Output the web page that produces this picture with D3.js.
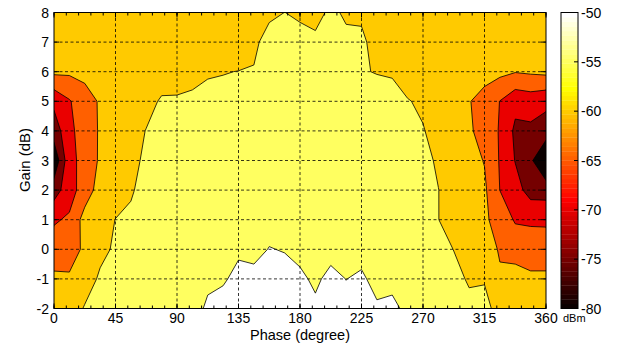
<!DOCTYPE html>
<html>
<head>
<meta charset="utf-8">
<script src="https://cdn.jsdelivr.net/npm/d3@7"></script>
<style>
  body { margin: 0; background: #fff; }
  text { font-family: "Liberation Sans", Arial, sans-serif; fill: #000; }
</style>
</head>
<body>
<svg id="chart" width="618" height="345"></svg>
<script>
// measurement grid: phase (deg) x gain (dB), power in dBm
const phaseDeg = [0, 11.25, 22.5, 33.75, 45, 56.25, 67.5, 78.75, 90, 101.25, 112.5,
  123.75, 135, 146.25, 157.5, 168.75, 180, 191.25, 202.5, 213.75, 225, 236.25,
  247.5, 258.75, 270, 281.25, 292.5, 303.75, 315, 326.25, 337.5, 348.75, 360];
const gainDb = [-2, -1, 0, 1, 2, 3, 4, 5, 6, 7, 8];

// one array per phase, values for gain -2 .. 8
const powerByPhase = [
  [-58.5, -59.1, -62.5, -65.6, -72.3, -79.0, -72.5, -68.9, -59.0, -58.2, -57.8],
  [-58.5, -59.4, -62.0, -64.3, -67.1, -66.5, -66.8, -65.4, -59.2, -58.3, -57.9],
  [-54.5, -58.0, -59.2, -58.1, -62.6, -63.3, -61.5, -62.0, -58.7, -58.3, -58.0],
  [-53.5, -54.1, -56.5, -57.5, -58.0, -59.3, -59.7, -59.5, -58.5, -58.3, -58.0],
  [-52.5, -53.3, -54.2, -54.9, -57.5, -58.2, -58.3, -58.4, -58.3, -58.2, -58.0],
  [-52.3, -52.8, -53.3, -54.0, -55.6, -56.5, -57.5, -58.0, -58.3, -58.2, -58.0],
  [-52.0, -52.5, -53.0, -53.2, -53.0, -54.0, -54.8, -57.0, -58.2, -58.1, -57.9],
  [-51.8, -52.2, -52.6, -52.8, -53.0, -53.5, -53.8, -54.3, -58.0, -58.1, -57.9],
  [-51.5, -51.9, -52.3, -52.6, -52.8, -53.2, -53.6, -54.2, -58.0, -58.2, -58.0],
  [-51.2, -51.6, -52.0, -52.4, -52.6, -52.9, -53.3, -54.0, -56.6, -57.8, -57.9],
  [-49.5, -50.6, -51.5, -52.0, -52.3, -52.6, -53.0, -53.8, -55.4, -57.5, -57.8],
  [-49.0, -50.3, -51.0, -51.6, -52.0, -52.4, -52.8, -53.5, -55.2, -57.2, -57.7],
  [-48.5, -49.3, -50.4, -51.0, -51.6, -52.0, -52.4, -53.0, -54.9, -58.2, -57.8],
  [-48.3, -49.2, -50.8, -51.2, -51.6, -52.0, -52.4, -53.0, -54.5, -56.7, -57.5],
  [-48.0, -48.8, -49.9, -51.0, -51.5, -51.9, -52.2, -52.6, -52.5, -51.8, -56.65],
  [-48.2, -49.0, -50.14, -51.0, -51.5, -51.8, -52.1, -52.4, -52.6, -53.0, -54.95],
  [-48.5, -49.3, -51.05, -51.5, -51.8, -52.0, -52.2, -52.4, -52.6, -53.0, -56.0],
  [-49.3, -50.65, -51.5, -51.9, -52.2, -52.4, -52.6, -52.8, -53.0, -53.5, -57.35],
  [-48.5, -49.0, -51.2, -51.7, -52.0, -52.3, -52.5, -52.7, -52.9, -53.2, -53.6],
  [-49.0, -50.05, -51.3, -51.8, -52.1, -52.4, -52.6, -52.9, -53.1, -53.5, -56.0],
  [-48.8, -49.4, -51.3, -51.8, -52.1, -52.4, -52.8, -53.5, -54.85, -53.3, -56.5],
  [-49.5, -51.2, -51.8, -52.2, -52.5, -52.8, -53.2, -54.0, -55.1, -58.3, -58.0],
  [-49.5, -50.6, -51.5, -52.0, -52.4, -52.8, -53.3, -54.3, -55.2, -58.2, -58.0],
  [-50.5, -51.2, -52.0, -52.5, -53.0, -53.6, -54.2, -54.8, -56.8, -58.2, -58.0],
  [-52.5, -52.8, -53.0, -53.5, -53.8, -54.0, -54.8, -55.6, -58.0, -58.2, -58.0],
  [-53.0, -53.5, -54.0, -54.95, -54.95, -55.5, -56.3, -57.5, -58.2, -58.2, -58.0],
  [-53.6, -54.2, -55.05, -56.5, -56.6, -57.3, -57.8, -58.0, -58.3, -58.3, -58.0],
  [-54.3, -55.3, -56.5, -57.5, -58.0, -58.5, -59.0, -59.8, -58.8, -58.4, -58.0],
  [-54.6, -55.1, -58.5, -59.3, -59.2, -60.2, -62.7, -61.5, -58.5, -58.3, -58.0],
  [-55.5, -59.6, -60.3, -61.7, -65.05, -65.4, -65.3, -65.1, -58.8, -58.3, -58.0],
  [-57.5, -58.5, -61.5, -65.57, -68.0, -70.2, -71.0, -68.5, -59.75, -58.3, -58.0],
  [-58.0, -59.15, -62.3, -65.8, -72.0, -74.0, -71.0, -67.7, -59.3, -58.3, -58.0],
  [-58.3, -59.26, -62.0, -66.0, -72.06, -81.0, -72.3, -68.76, -58.86, -58.2, -57.9]
];

const levels = [-75, -70, -65, -60, -55, -50];
const xTicks = [0, 45, 90, 135, 180, 225, 270, 315, 360];
const yTicks = [-2, -1, 0, 1, 2, 3, 4, 5, 6, 7, 8];
const cbTicks = [-80, -75, -70, -65, -60, -55, -50];
const cbRange = [-80, -50];

// plot box
const plotL = 54, plotR = 546, plotT = 12.5, plotB = 308.5;
const cbL = 561, cbR = 578;

const svg = d3.select("#chart");

const x = d3.scaleLinear().domain([0, 360]).range([plotL, plotR]);
const y = d3.scaleLinear().domain([-2, 8]).range([plotB, plotT]);
const yc = d3.scaleLinear().domain(cbRange).range([plotB, plotT]);

// matlab "hot" colormap, 64 entries
function hot(v) {
  let k = Math.floor((v - cbRange[0]) / (cbRange[1] - cbRange[0]) * 64) + 1;
  k = Math.max(1, Math.min(64, k));
  const cl = t => Math.max(0, Math.min(1, t));
  return d3.rgb(cl(k / 24) * 255, cl((k - 24) / 24) * 255, cl((k - 48) / 16) * 255);
}

// flatten the grid for d3.contours (row = gain)
const n = phaseDeg.length, m = gainDb.length;
const values = new Array(n * m);
for (let j = 0; j < m; j++)
  for (let i = 0; i < n; i++)
    values[j * n + i] = powerByPhase[i][j];

const thresholds = [-1000].concat(levels);
const contours = d3.contours().size([n, m]).thresholds(thresholds)(values);

// grid coords -> data coords
const gx = d3.scaleLinear().domain([0.5, n - 0.5]).range([phaseDeg[0], phaseDeg[n - 1]]);
const gy = d3.scaleLinear().domain([0.5, m - 0.5]).range([gainDb[0], gainDb[m - 1]]);
const proj = d3.geoTransform({
  point: function(px, py) { this.stream.point(x(gx(px)), y(gy(py))); }
});
const path = d3.geoPath(proj);

svg.append("clipPath").attr("id", "plotclip")
  .append("rect").attr("x", plotL).attr("y", plotT)
  .attr("width", plotR - plotL).attr("height", plotB - plotT);

svg.append("g").attr("clip-path", "url(#plotclip)")
  .selectAll("path")
  .data(contours)
  .join("path")
  .attr("d", path)
  .attr("fill", d => hot(Math.max(d.value, cbRange[0])))
  .attr("stroke", (d, i) => i === 0 ? "none" : "#000")
  .attr("stroke-width", 0.8)
  .attr("stroke-linejoin", "round");

// dashed grid
const grid = svg.append("g").attr("stroke", "#000").attr("stroke-width", 0.8)
  .attr("stroke-dasharray", "3,2.5");
grid.selectAll(".gx").data(xTicks.slice(1, -1)).join("line")
  .attr("x1", d => x(d)).attr("x2", d => x(d)).attr("y1", plotT).attr("y2", plotB);
grid.selectAll(".gy").data(yTicks.slice(1, -1)).join("line")
  .attr("x1", plotL).attr("x2", plotR).attr("y1", d => y(d)).attr("y2", d => y(d));

// ticks (inward, matlab style)
const tk = svg.append("g").attr("stroke", "#000").attr("stroke-width", 1);
const xMinor = d3.range(0, 361, 9);
tk.selectAll(".xm").data(xMinor).join("path")
  .attr("d", d => `M${x(d)},${plotB}v-3M${x(d)},${plotT}v3`);
tk.selectAll(".xM").data(xTicks).join("path")
  .attr("d", d => `M${x(d)},${plotB}v-5M${x(d)},${plotT}v5`);
tk.selectAll(".yM").data(yTicks).join("path")
  .attr("d", d => `M${plotL},${y(d)}h5M${plotR},${y(d)}h-5`);

svg.append("rect").attr("x", plotL).attr("y", plotT)
  .attr("width", plotR - plotL).attr("height", plotB - plotT)
  .attr("fill", "none").attr("stroke", "#000").attr("stroke-width", 1);

// tick labels
svg.append("g").selectAll("text").data(xTicks).join("text")
  .attr("x", d => x(d)).attr("y", 323).attr("text-anchor", "middle")
  .attr("font-size", 14).text(d => d);
svg.append("g").selectAll("text").data(yTicks).join("text")
  .attr("x", 49).attr("y", d => y(d)).attr("dy", "0.36em").attr("text-anchor", "end")
  .attr("font-size", 14).text(d => d);

svg.append("text").attr("x", 300).attr("y", 340).attr("text-anchor", "middle")
  .attr("font-size", 14.5).text("Phase (degree)");
svg.append("text").attr("transform", "translate(30,160) rotate(-90)")
  .attr("text-anchor", "middle").attr("font-size", 15).text("Gain (dB)");

// colorbar
const steps = d3.range(64);
const cb = svg.append("g");
cb.selectAll("rect").data(steps).join("rect")
  .attr("x", cbL).attr("width", cbR - cbL)
  .attr("y", k => yc(cbRange[0] + (k + 1) * 30 / 64))
  .attr("height", k => yc(cbRange[0] + k * 30 / 64) - yc(cbRange[0] + (k + 1) * 30 / 64) + 0.3)
  .attr("fill", k => hot(cbRange[0] + (k + 0.5) * 30 / 64));
cb.append("rect").attr("x", cbL).attr("y", plotT)
  .attr("width", cbR - cbL).attr("height", plotB - plotT)
  .attr("fill", "none").attr("stroke", "#000").attr("stroke-width", 1);
cb.selectAll(".ct").data(cbTicks).join("path")
  .attr("stroke", "#000").attr("d", d => `M${cbR},${yc(d)}h-4`);
cb.selectAll("text").data(cbTicks).join("text")
  .attr("x", cbR + 3).attr("y", d => yc(d)).attr("dy", "0.36em")
  .attr("font-size", 14).text(d => d);
svg.append("text").attr("x", 563).attr("y", 322).attr("font-size", 11).text("dBm");
</script>
</body>
</html>
